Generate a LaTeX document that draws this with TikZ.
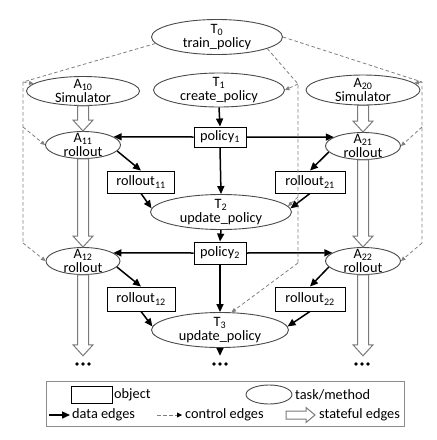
\documentclass[tikz,border=0pt]{standalone}
\usepackage{fontspec}
\setmainfont{Carlito}
\usetikzlibrary{shapes.geometric,arrows.meta,calc}
\definecolor{ellgray}{HTML}{4A4A4A}
\definecolor{ctrlgray}{HTML}{808080}
\definecolor{stategray}{HTML}{7A7A7A}
\definecolor{framegray}{HTML}{8C8C8C}

% hollow vertical arrow between two anchors
\newcommand\statedge[2]{%
  \draw[stateful] let \p1=(#1), \p2=(#2) in
    (\x1-5.5pt,\y1) -- (\x1-5.5pt,\y2+11pt) -- (\x1-10pt,\y2+11pt) -- (\x1,\y2)
    -- (\x1+10pt,\y2+11pt) -- (\x1+5.5pt,\y2+11pt) -- (\x1+5.5pt,\y1) -- cycle;}
% hollow horizontal arrow between two anchors
\newcommand\statedgeH[2]{%
  \draw[stateful] let \p1=(#1), \p2=(#2) in
    (\x1,\y1+4pt) -- (\x2-9pt,\y1+4pt) -- (\x2-9pt,\y1+7.5pt) -- (\x2,\y1)
    -- (\x2-9pt,\y1-7.5pt) -- (\x2-9pt,\y1-4pt) -- (\x1,\y1-4pt) -- cycle;}

\begin{document}
\lineskiplimit=-20pt
\begin{tikzpicture}[x=1pt,y=-1pt,
  every node/.style={font=\fontsize{14.3}{14}\selectfont, text=black},
  task/.style={ellipse, draw=ellgray, line width=0.9pt, inner sep=-8pt, align=center},
  obj/.style={rectangle, draw=black, line width=0.9pt, inner sep=0pt},
  lbl/.style={anchor=west, inner sep=0pt},
  data/.style={-{Triangle[length=8pt,width=7pt]}, line width=1.5pt, black},
  ctrlline/.style={ctrlgray, line width=0.8pt, dash pattern=on 3.5pt off 2.5pt},
  ctrl/.style={ctrlline, -{Triangle[length=4.5pt,width=4pt]}},
  stateful/.style={draw=stategray, fill=white, line width=1pt, line join=miter},
  dotsnode/.style={minimum width=18pt, minimum height=12pt, inner sep=0pt,
    path picture={\fill ($(path picture bounding box.center)+(0pt,-2pt)$)
      circle (1.8pt) ++(6pt,0pt) circle (1.8pt) ++(-12pt,0pt) circle (1.8pt);}}
]
\useasboundingbox[fill=white] (0,0) rectangle (437,440);

% tasks
\node[task, minimum width=131, minimum height=35] (T0) at (217,37) {T\textsubscript{0}\\train\_policy};
\node[task, minimum width=113, minimum height=29] (A10) at (83,91) {A\textsubscript{10}\\Simulator};
\node[task, minimum width=131, minimum height=34] (T1) at (219,90) {T\textsubscript{1}\\create\_policy};
\node[task, minimum width=114, minimum height=30] (A20) at (363,90) {A\textsubscript{20}\\Simulator};
\node[task, minimum width=75, minimum height=27] (A11) at (83,145) {A\textsubscript{11}\\rollout};
\node[task, minimum width=75, minimum height=27] (A21) at (363,146) {A\textsubscript{21}\\rollout};
\node[task, minimum width=141, minimum height=35] (T2) at (221,212) {T\textsubscript{2}\\update\_policy};
\node[task, minimum width=74, minimum height=27] (A12) at (83,261) {A\textsubscript{12}\\rollout};
\node[task, minimum width=75, minimum height=27] (A22) at (363,261) {A\textsubscript{22}\\rollout};
\node[task, minimum width=137, minimum height=35] (T3) at (220,330) {T\textsubscript{3}\\update\_policy};

% objects
\node[obj, minimum width=52, minimum height=20] (p1) at (220,137) {policy\textsubscript{1}};
\node[obj, minimum width=67, minimum height=22] (r11) at (141,182) {rollout\textsubscript{11}};
\node[obj, minimum width=70, minimum height=22] (r21) at (310,182) {rollout\textsubscript{21}};
\node[obj, minimum width=52, minimum height=22] (p2) at (220,253) {policy\textsubscript{2}};
\node[obj, minimum width=68, minimum height=24] (r12) at (141,299) {rollout\textsubscript{12}};
\node[obj, minimum width=70, minimum height=24] (r22) at (310,299) {rollout\textsubscript{22}};

% continuation marks
\node[dotsnode] (dL) at (83,362) {};
\node[dotsnode] (dM) at (220,362) {};
\node[dotsnode] (dR) at (362,362) {};

% stateful edges
\statedge{A10.south}{A11.north}
\statedge{A11.south}{A12.north}
\statedge{A12.south}{dL.north}
\statedge{A20.south}{A21.north}
\statedge{A21.south}{A22.north}
\statedge{A22.south}{dR.north}

% data edges
\draw[data] (T1.south) -- (p1.north);
\draw[data] (p1.west) -- (A11.15);
\draw[data] (p1.east) -- (A21.163);
\draw[data] (p1.south) -- (T2.north);
\draw[data] (A11.-10) -- (r11.north);
\draw[data] (A21.190) -- (r21.north);
\draw[data] (r11.south) -- (T2.177);
\draw[data] (r21.south) -- (T2.3);
\draw[data] (T2.south) -- (p2.north);
\draw[data] (p2.west) -- (A12.15);
\draw[data] (p2.east) -- (A22.165);
\draw[data] (p2.south) -- (T3.north);
\draw[data] (A12.-10) -- (r12.north);
\draw[data] (A22.190) -- (r22.north);
\draw[data] (r12.south) -- (T3.177);
\draw[data] (r22.south) -- (T3.3);
\draw[data] (T3.south) -- (dM.north);

% control edges
\coordinate (cL) at (23,82);
\coordinate (cLm) at (23,127);
\coordinate (cLb) at (23,243);
\coordinate (cR) at (422,82);
\coordinate (cRm) at (422,127);
\coordinate (cRb) at (422,243);
\coordinate (cM) at (298,84);
\coordinate (cMm) at (298,197);
\coordinate (cMb) at (298,263);
\draw[ctrlline] (T0.186) -- (cL) -- (cLb);
\draw[ctrlline] (T0.east) -- (cR) -- (cRb);
\draw[ctrlline] (T0.-13) -- (cM) -- (cMb);
\draw[ctrl] (cL) -- (A10);
\draw[ctrl] (cLm) -- (A11.west);
\draw[ctrl] (cLb) -- (A12.west);
\draw[ctrl] (cR) -- (A20);
\draw[ctrl] (cRm) -- (A21.east);
\draw[ctrl] (cRb) -- (A22.east);
\draw[ctrl] (cM) -- (T1.east);
\draw[ctrl] (cMm) -- (T2.5);
\draw[ctrl] (cMb) -- (T3.57);

% legend
\node[draw=framegray, line width=0.9pt, minimum width=358, minimum height=45, inner sep=0pt] (legend) at (225,403.5) {};
\node[obj, minimum width=41, minimum height=17] (lgbox) at (91.5,394.5) {};
\node[lbl] (lgobj) at (114,395) {object};
\node[ellipse, draw=ellgray, line width=0.9pt, minimum width=46, minimum height=19, inner sep=0pt] (lgell) at (269,394.5) {};
\node[lbl] (lgtask) at (295,395) {task/method};
\coordinate (ld1) at (49,415);
\coordinate (ld2) at (70,415);
\draw[data] (ld1) -- (ld2);
\node[lbl] (lgdata) at (72,415) {data edges};
\coordinate (lc1) at (157,415);
\coordinate (lc2) at (182,415);
\draw[ctrlline, -{Triangle[length=5pt,width=5pt,color=black]}] (lc1) -- (lc2);
\node[lbl] (lgctrl) at (185,415) {control edges};
\coordinate (ls1) at (286,415);
\coordinate (ls2) at (315,415);
\statedgeH{ls1}{ls2}
\node[lbl] (lgstate) at (319,415) {stateful edges};
\end{tikzpicture}
\end{document}
